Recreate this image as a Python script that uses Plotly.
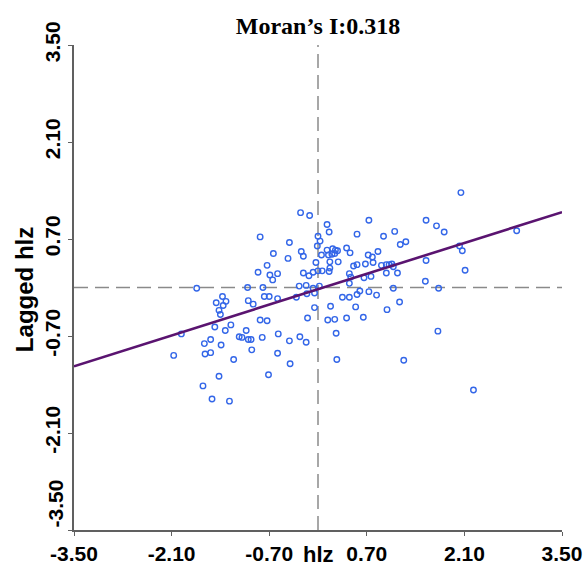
import plotly.graph_objects as go

# ---- data ----
hlz = [
    -0.25, -0.12, -0.83, -0.41, -0.64, -0.24, -0.21, -0.43, -0.73, -0.86,
    -0.69, -0.58, -0.65, -0.21, -0.13, -0.07, -1.74, -1.01, -0.79, -0.27,
    -0.17, -0.05, -0.16, -0.31, -1.46, -1.37, -1.32, -1.36, -1.42, -1.40,
    -1.00, -0.93, -0.77, -0.70, -0.58, -0.05, -0.15, -0.83, -0.73,
    -1.96, -2.07, -1.48, -1.25, -1.33, -1.63, -1.54, -1.62, -1.54, -1.39,
    -1.21, -1.03, -1.13, -1.09, -1.00, -0.96, -0.95, -0.80, -0.57, -0.41,
    -0.26, -0.17, -0.58, -0.40, -1.42, -0.71, -1.65, -1.52, -1.27,
    0.13, 0.16, 0.00, 0.03, -0.01, 0.73, 0.56, 0.94, 1.10, 1.18,
    1.26, 1.55, 1.70, 0.13, 0.21, 0.25, 0.28, 0.20, 0.24, 0.15,
    0.41, 0.46, 0.05, -0.03, 0.17, 0.29, 0.72, 0.78, 0.86, 0.51,
    0.56, 0.68, 0.79, 0.91, 0.98, 1.02, 1.06, 1.08, 1.55, 0.17,
    0.16, 0.00, 0.06, 0.45, 0.47, 0.66, 0.76, 0.98, 1.14, 0.45, 1.54,
    -0.07, 0.02, 0.60, 0.56, 0.35, 0.45, 0.73, 0.84, 1.08, 1.73,
    0.18, 0.54, 1.17, 0.99, 0.14, 0.24, 0.41, 0.65, 0.26, 1.72,
    0.27, 1.23, 2.23,
    2.05, 1.81, 2.85, 2.03, 2.07, 2.11,
]
lagged_hlz = [
    1.08, 1.04, 0.73, 0.65, 0.49, 0.52, 0.45, 0.42, 0.32, 0.22,
    0.18, 0.20, 0.11, 0.21, 0.17, 0.22, -0.01, 0.00, 0.00, 0.02,
    0.03, -0.08, -0.09, -0.14, -0.22, -0.13, -0.20, -0.26, -0.33, -0.39,
    -0.19, -0.24, -0.13, -0.13, -0.16, -0.29, -0.44, -0.47, -0.48,
    -0.67, -0.98, -0.57, -0.54, -0.62, -0.81, -0.75, -0.96, -0.94, -0.83,
    -1.04, -0.62, -0.71, -0.72, -0.75, -0.75, -0.90, -0.72, -0.67, -0.77,
    -0.71, -0.79, -0.95, -1.10, -1.28, -1.26, -1.42, -1.61, -1.64,
    0.91, 0.80, 0.74, 0.67, 0.60, 0.97, 0.77, 0.74, 0.81, 0.62,
    0.66, 0.97, 0.89, 0.54, 0.56, 0.54, 0.53, 0.48, 0.49, 0.47,
    0.57, 0.50, 0.47, 0.36, 0.37, 0.37, 0.47, 0.44, 0.52, 0.31,
    0.33, 0.34, 0.36, 0.32, 0.33, 0.33, 0.34, 0.30, 0.39, 0.28,
    0.23, 0.24, 0.24, 0.20, 0.15, 0.14, 0.16, 0.21, 0.21, 0.06, 0.09,
    -0.01, 0.02, -0.05, -0.10, -0.14, -0.14, -0.06, -0.11, -0.01, -0.01,
    -0.27, -0.28, -0.21, -0.32, -0.47, -0.46, -0.44, -0.43, -0.66, -0.63,
    -1.04, -1.05, -1.48,
    1.37, 0.80, 0.82, 0.60, 0.53, 0.25,
]
MORAN_I = 0.318
INTERCEPT = -0.025
AXIS_RANGE = [-3.5, 3.5]
tick_vals = [-3.5, -2.1, -0.7, 0.7, 2.1, 3.5]
tick_text = ["%.2f" % v for v in tick_vals]

SANS = "Liberation Sans"
fig = go.Figure()

fig.add_trace(go.Scatter(
    x=hlz, y=lagged_hlz, mode="markers",
    marker=dict(symbol="circle-open", size=5.5, color="#3366e8",
                line=dict(width=1.4, color="#3366e8")),
    hoverinfo="x+y", showlegend=False,
))
fig.add_trace(go.Scatter(
    x=AXIS_RANGE, y=[MORAN_I * v + INTERCEPT for v in AXIS_RANGE],
    mode="lines", line=dict(color="#5a1470", width=2.6),
    showlegend=False, hoverinfo="skip",
))

dash_style = dict(color="#8a8a8a", width=1.5, dash="14px,7px")
fig.add_shape(type="line", xref="paper", yref="y", x0=0, x1=1, y0=0, y1=0,
              line=dash_style, layer="below")
fig.add_shape(type="line", xref="x", yref="paper", x0=0, x1=0, y0=0, y1=1,
              line=dash_style, layer="below")

axis_common = dict(
    range=AXIS_RANGE, tickmode="array", tickvals=tick_vals,
    showgrid=False, zeroline=False, showline=True, linecolor="#606060",
    linewidth=1.5, ticks="outside", ticklen=4, tickcolor="#606060",
    tickwidth=1.3, automargin=False,
    tickfont=dict(family=SANS, size=21, color="black", weight="bold"),
)
fig.update_xaxes(ticktext=tick_text, **axis_common)
# the lowest y label sits above its tick, so it is written as an annotation
y_text = [""] + tick_text[1:]
fig.update_yaxes(ticktext=y_text, tickangle=-90, **axis_common)

fig.add_annotation(
    x=0, y=tick_vals[0], xref="paper", yref="y", text=tick_text[0],
    textangle=-90, showarrow=False, xanchor="right", yanchor="bottom",
    xshift=-6, font=dict(family=SANS, size=21, color="black", weight="bold"),
)
fig.add_annotation(
    x=0, y=(530 - 569) / 485, xref="x", yref="paper", text="hlz",
    showarrow=False, xanchor="center", yanchor="bottom",
    font=dict(family=SANS, size=22, color="black", weight="bold"),
)
fig.add_annotation(
    x=-0.10, y=0.495, xref="paper", yref="paper", text="Lagged hlz",
    textangle=-90, showarrow=False, xanchor="center", yanchor="middle",
    font=dict(family=SANS, size=24, color="black", weight="bold"),
)

fig.update_layout(
    width=585, height=567,
    margin=dict(l=74, r=23, t=45, b=37, autoexpand=False),
    paper_bgcolor="white", plot_bgcolor="white",
    title=dict(text="Moran’s I:0.318", x=0.5, xref="paper",
               y=1 - 26 / 567, yref="container", yanchor="middle",
               font=dict(family="Liberation Serif", size=24, color="black",
                         weight="bold")),
)

fig.write_html(
    "out.html",
    config={"displayModeBar": False},
    post_script="document.body.style.margin='0';document.body.style.padding='0';",
)
